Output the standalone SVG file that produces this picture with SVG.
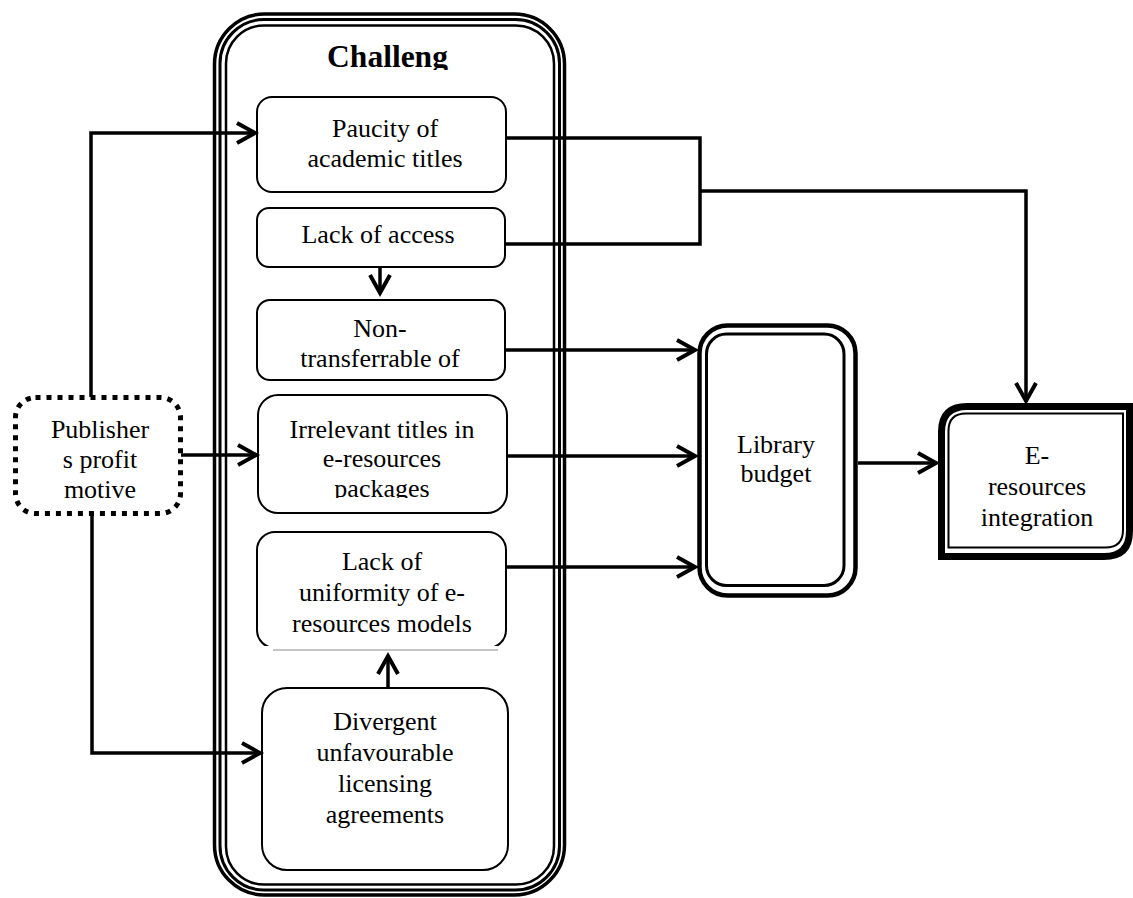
<svg xmlns="http://www.w3.org/2000/svg" width="1133" height="898" viewBox="0 0 1133 898">
<style>
.t{font-family:"Liberation Serif","Times New Roman",serif;font-size:26px;fill:#000;text-anchor:middle}
.b{fill:#fff;stroke:#000;stroke-width:2}
.c{fill:none;stroke:#000;stroke-width:3.5}
</style>
<defs>
<marker id="ah" viewBox="-22 -13 28 26" refX="0" refY="0" markerWidth="28" markerHeight="26" markerUnits="userSpaceOnUse" orient="auto">
<path d="M-18,-10 L0,0 L-18,10" fill="none" stroke="#000" stroke-width="4"/>
</marker>
<clipPath id="clipTitle"><rect x="0" y="0" width="1133" height="70"/></clipPath>
<clipPath id="clipPack"><rect x="0" y="0" width="1133" height="498"/></clipPath>
<clipPath id="clipUni"><rect x="0" y="0" width="1133" height="646"/></clipPath>
</defs>
<rect width="1133" height="898" fill="#fff"/>

<g id="challenges">
<rect x="214.5" y="14" width="350" height="881" rx="50" fill="#fff" stroke="#000" stroke-width="3.5"/>
<rect x="220" y="19.5" width="339.5" height="870.5" rx="44" fill="none" stroke="#000" stroke-width="3"/>
<rect x="226" y="25.5" width="328" height="859" rx="38" fill="none" stroke="#000" stroke-width="2.5"/>
<text x="387.5" y="67" clip-path="url(#clipTitle)" style="font-family:'Liberation Serif','Times New Roman',serif;font-size:31.5px;font-weight:bold;text-anchor:middle">Challeng</text>
</g>

<g id="paucity">
<rect class="b" x="257" y="97" width="249" height="95" rx="15"/>
<text class="t" x="385" y="137">Paucity of</text>
<text class="t" x="385" y="167">academic titles</text>
</g>

<g id="lack-access">
<rect class="b" x="257" y="208" width="248" height="59" rx="12"/>
<text class="t" x="378" y="243">Lack of access</text>
</g>

<g id="non-transferrable">
<rect class="b" x="257" y="300" width="248" height="80" rx="13"/>
<text class="t" x="380" y="337">Non-</text>
<text class="t" x="380" y="367">transferrable of</text>
</g>

<g id="irrelevant">
<rect class="b" x="258" y="395" width="249" height="118" rx="20"/>
<text class="t" x="382" y="438">Irrelevant titles in</text>
<text class="t" x="382" y="467">e-resources</text>
<text class="t" x="382" y="497" clip-path="url(#clipPack)">packages</text>
</g>

<g id="uniformity">
<rect class="b" x="257" y="532" width="249" height="116" rx="18" clip-path="url(#clipUni)"/>
<line x1="273" y1="650" x2="498" y2="650" stroke="#8a8a8a" stroke-width="1"/>
<text class="t" x="382" y="570">Lack of</text>
<text class="t" x="382" y="601">uniformity of e-</text>
<text class="t" x="382" y="632">resources models</text>
</g>

<g id="divergent">
<rect class="b" x="262" y="688" width="246" height="182" rx="25"/>
<text class="t" x="385" y="730">Divergent</text>
<text class="t" x="385" y="761">unfavourable</text>
<text class="t" x="385" y="792">licensing</text>
<text class="t" x="385" y="823">agreements</text>
</g>

<g id="publisher">
<rect x="15.5" y="397.5" width="165" height="116" rx="20" fill="#fff" stroke="#000" stroke-width="5" stroke-dasharray="5 6"/>
<text class="t" x="100" y="438">Publisher</text>
<text class="t" x="100" y="468">s profit</text>
<text class="t" x="100" y="498">motive</text>
</g>

<g id="library-budget">
<rect x="699.5" y="325.5" width="156" height="270" rx="28" fill="#fff" stroke="#000" stroke-width="4.5"/>
<rect x="706.5" y="334" width="137.5" height="251.5" rx="20" fill="none" stroke="#000" stroke-width="3"/>
<text class="t" x="776" y="453">Library</text>
<text class="t" x="776" y="482">budget</text>
</g>

<g id="e-resources">
<path d="M941.5,556.5 L941.5,432 Q941.5,406.5 967,406.5 L1129.5,406.5 L1129.5,531 Q1129.5,556.5 1104,556.5 Z" fill="#fff" stroke="#000" stroke-width="7"/>
<path d="M948.5,547.5 L948.5,431 Q948.5,413.5 966,413.5 L1123,413.5 L1123,530 Q1123,547.5 1105.5,547.5 Z" fill="none" stroke="#000" stroke-width="2"/>
<text class="t" x="1037" y="464">E-</text>
<text class="t" x="1037" y="495">resources</text>
<text class="t" x="1037" y="526">integration</text>
</g>

<g id="connectors">
<path class="c" d="M91,397 L91,133 L255,133" marker-end="url(#ah)"/>
<path class="c" d="M181,455 L256,455" marker-end="url(#ah)"/>
<path class="c" d="M92,514 L92,753 L260,753" marker-end="url(#ah)"/>
<path class="c" d="M380,267 L380,293" marker-end="url(#ah)"/>
<path class="c" d="M388,688 L388,656" marker-end="url(#ah)"/>
<path class="c" d="M506,138 L700,138 L700,244 L505,244"/>
<path class="c" d="M700,191 L1026,191 L1026,401" marker-end="url(#ah)"/>
<path class="c" d="M505,350 L695,350" marker-end="url(#ah)"/>
<path class="c" d="M507,456 L695,456" marker-end="url(#ah)"/>
<path class="c" d="M506,567 L695,567" marker-end="url(#ah)"/>
<path class="c" d="M858,463 L936,463" marker-end="url(#ah)"/>
</g>
</svg>
